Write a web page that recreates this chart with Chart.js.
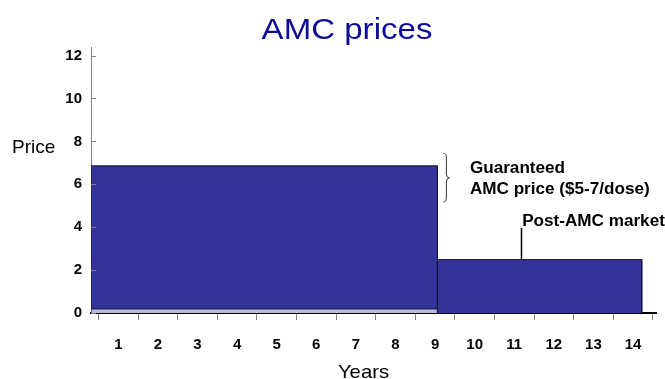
<!DOCTYPE html>
<html>
<head>
<meta charset="utf-8">
<title>AMC prices</title>
<script src="https://cdn.jsdelivr.net/npm/chart.js@4.4.1/dist/chart.umd.min.js"></script>
<style>
  html, body { margin: 0; padding: 0; background: #fff; }
  #chart { display: block; }
</style>
</head>
<body>
<canvas id="chart" width="665" height="379"></canvas>
<script>
// AMC prices: guaranteed price during the AMC, then the post-AMC market price

const years = [1, 2, 3, 4, 5, 6, 7, 8, 9, 10, 11, 12, 13, 14];
const priceTicks = [0, 2, 4, 6, 8, 10, 12];
const periodNames = ['Guaranteed AMC price', 'Post-AMC market'];
const periodStart = [0.31, 9.06];
const periodEnd = [9.06, 14.22];
const periodPrice = [6.86, 2.49];
const basePrice = 0.19;

const FONT = "'Liberation Sans', Arial, sans-serif";
const navy = '#333399';

function rectPoints(x0, x1, y) {
    return [{x: x0, y: 0}, {x: x0, y: y}, {x: x1, y: y}, {x: x1, y: 0}];
}

var datasets = periodNames.map(function(name, i) {
    return {
        label: name,
        data: rectPoints(periodStart[i], periodEnd[i], periodPrice[i]),
        showLine: true,
        fill: 'origin',
        backgroundColor: navy,
        borderColor: '#15153a',
        borderWidth: 1,
        pointRadius: 0,
        order: 3 - i
    };
});
// thin light strip at the foot of the first block
datasets.push({
    label: 'base',
    data: rectPoints(periodStart[0], periodEnd[0], basePrice),
    showLine: true,
    fill: 'origin',
    backgroundColor: '#b8b8de',
    borderColor: '#15153a',
    borderWidth: 1,
    pointRadius: 0,
    order: 0
});

function drawText(ctx, text, x, y, font, align, sx, color) {
    ctx.save();
    ctx.translate(x, y);
    ctx.scale(sx, 1);
    ctx.font = font;
    ctx.fillStyle = color;
    ctx.textAlign = align;
    ctx.textBaseline = 'alphabetic';
    ctx.fillText(text, 0, 0);
    ctx.restore();
}

const annotations = {
    id: 'annotations',
    afterDraw: function(chart) {
        const ctx = chart.ctx;
        const xs = chart.scales.x;
        const ys = chart.scales.y;

        // y tick marks point into the plot
        ctx.save();
        ctx.strokeStyle = '#808080';
        ctx.lineWidth = 1;
        priceTicks.forEach(function(v) {
            const y = Math.round(ys.getPixelForValue(v)) + 0.5;
            ctx.beginPath();
            ctx.moveTo(ys.right, y);
            ctx.lineTo(ys.right + 5, y);
            ctx.stroke();
        });
        ctx.restore();

        // titles
        drawText(ctx, 'AMC prices', 347, 38.5, 'normal 29px ' + FONT, 'center', 1.14, '#0c0c9a');
        drawText(ctx, 'Price', 12, 152.8, 'normal 19px ' + FONT, 'left', 1.0, '#000');
        drawText(ctx, 'Years', 363.5, 377.5, 'normal 19px ' + FONT, 'center', 1.07, '#000');

        // brace next to the guaranteed price
        const bx = xs.getPixelForValue(9.21);
        const top = ys.getPixelForValue(7.45);
        const bottom = ys.getPixelForValue(5.17);
        const mid = ys.getPixelForValue(6.3);
        ctx.save();
        ctx.strokeStyle = '#333';
        ctx.lineWidth = 1;
        ctx.beginPath();
        ctx.moveTo(bx, top);
        ctx.quadraticCurveTo(bx + 3, top, bx + 3, top + 5);
        ctx.lineTo(bx + 3, mid - 4);
        ctx.quadraticCurveTo(bx + 3, mid, bx + 6, mid);
        ctx.quadraticCurveTo(bx + 3, mid, bx + 3, mid + 4);
        ctx.lineTo(bx + 3, bottom - 5);
        ctx.quadraticCurveTo(bx + 3, bottom, bx, bottom);
        ctx.stroke();
        ctx.restore();

        const bold = 'bold 16px ' + FONT;
        const capOff = 0.36 * 16;
        drawText(ctx, 'Guaranteed', xs.getPixelForValue(9.88), ys.getPixelForValue(6.78) + capOff, bold, 'left', 1.07, '#000');
        drawText(ctx, 'AMC price ($5-7/dose)', xs.getPixelForValue(9.88), ys.getPixelForValue(5.80) + capOff, bold, 'left', 1.07, '#000');

        // pointer to the post-AMC block
        const px = Math.round(xs.getPixelForValue(11.16)) + 0.5;
        ctx.save();
        ctx.strokeStyle = '#000';
        ctx.lineWidth = 1.5;
        ctx.beginPath();
        ctx.moveTo(px, ys.getPixelForValue(3.96));
        ctx.lineTo(px, ys.getPixelForValue(periodPrice[1]));
        ctx.stroke();
        ctx.restore();
        drawText(ctx, 'Post-AMC market', xs.getPixelForValue(11.2), ys.getPixelForValue(4.33) + capOff, bold, 'left', 1.07, '#000');
    }
};

const ctx = document.getElementById('chart').getContext('2d');
const chart = new Chart(ctx, {
    type: 'scatter',
    data: { datasets: datasets },
    options: {
        responsive: false,
        animation: false,
        devicePixelRatio: 1,
        layout: { padding: { top: 47, left: 0, right: 9, bottom: 0 } },
        plugins: {
            legend: { display: false },
            tooltip: { enabled: false },
            title: { display: false }
        },
        scales: {
            x: {
                type: 'linear',
                min: 0.31,
                max: 14.58,
                afterBuildTicks: function(s) { s.ticks = years.map(function(v) { return {value: v}; }); },
                afterFit: function(s) { s.height = 66; },
                grid: { offset: true, drawOnChartArea: false, drawTicks: true, tickLength: 7, color: '#808080', lineWidth: 1 },
                border: { display: true, color: '#000', width: 2 },
                ticks: {
                    font: { family: FONT, size: 15, weight: 'bold' },
                    color: '#000',
                    padding: 16,
                    maxRotation: 0,
                    autoSkip: false
                }
            },
            y: {
                type: 'linear',
                min: 0,
                max: 12.4,
                afterBuildTicks: function(s) { s.ticks = priceTicks.map(function(v) { return {value: v}; }); },
                afterFit: function(s) { s.width = 91; },
                grid: { display: false, drawTicks: false },
                border: { display: true, color: '#808080', width: 1 },
                ticks: {
                    font: { family: FONT, size: 15, weight: 'bold' },
                    color: '#000',
                    padding: 9
                }
            }
        }
    },
    plugins: [annotations]
});
</script>
</body>
</html>
